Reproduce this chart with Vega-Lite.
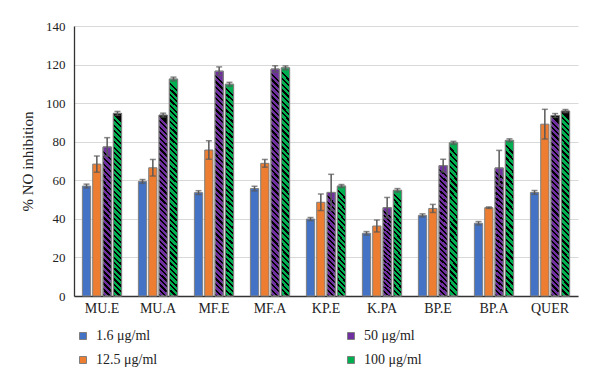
{
  "$schema": "https://vega.github.io/schema/vega-lite/v6.json",
  "width": 504,
  "height": 270,
  "autosize": {"type": "none"},
  "padding": {"left": 74, "top": 26, "right": 22, "bottom": 94},
  "background": "white",
  "config": {
    "font": "Liberation Serif",
    "view": {"stroke": null},
    "axis": {"labelFont": "Liberation Serif", "titleFont": "Liberation Serif", "labelColor": "#222", "titleColor": "#222"}
  },
  "data": {
    "values": [
      {"group": "MU.E", "conc": "1.6 μg/ml", "value": 57.0, "lo": 56.0, "hi": 58.0},
      {"group": "MU.E", "conc": "12.5 μg/ml", "value": 68.4, "lo": 64.2, "hi": 72.6},
      {"group": "MU.E", "conc": "50 μg/ml", "value": 77.3, "lo": 72.5, "hi": 82.1},
      {"group": "MU.E", "conc": "100 μg/ml", "value": 94.7, "lo": 93.7, "hi": 95.7},
      {"group": "MU.A", "conc": "1.6 μg/ml", "value": 59.4, "lo": 58.4, "hi": 60.4},
      {"group": "MU.A", "conc": "12.5 μg/ml", "value": 66.5, "lo": 62.2, "hi": 70.8},
      {"group": "MU.A", "conc": "50 μg/ml", "value": 93.8, "lo": 92.8, "hi": 94.8},
      {"group": "MU.A", "conc": "100 μg/ml", "value": 112.5, "lo": 111.5, "hi": 113.5},
      {"group": "MF.E", "conc": "1.6 μg/ml", "value": 53.6, "lo": 52.6, "hi": 54.6},
      {"group": "MF.E", "conc": "12.5 μg/ml", "value": 75.7, "lo": 70.9, "hi": 80.5},
      {"group": "MF.E", "conc": "50 μg/ml", "value": 116.6, "lo": 114.4, "hi": 118.8},
      {"group": "MF.E", "conc": "100 μg/ml", "value": 109.8, "lo": 108.8, "hi": 110.8},
      {"group": "MF.A", "conc": "1.6 μg/ml", "value": 55.7, "lo": 54.5, "hi": 56.9},
      {"group": "MF.A", "conc": "12.5 μg/ml", "value": 68.8, "lo": 66.8, "hi": 70.8},
      {"group": "MF.A", "conc": "50 μg/ml", "value": 117.7, "lo": 116.0, "hi": 119.4},
      {"group": "MF.A", "conc": "100 μg/ml", "value": 118.3, "lo": 117.3, "hi": 119.3},
      {"group": "KP.E", "conc": "1.6 μg/ml", "value": 39.9, "lo": 39.1, "hi": 40.7},
      {"group": "KP.E", "conc": "12.5 μg/ml", "value": 48.6, "lo": 44.3, "hi": 52.9},
      {"group": "KP.E", "conc": "50 μg/ml", "value": 53.7, "lo": 44.3, "hi": 63.1},
      {"group": "KP.E", "conc": "100 μg/ml", "value": 57.0, "lo": 56.2, "hi": 57.8},
      {"group": "K.PA", "conc": "1.6 μg/ml", "value": 32.5, "lo": 31.6, "hi": 33.4},
      {"group": "K.PA", "conc": "12.5 μg/ml", "value": 36.3, "lo": 33.2, "hi": 39.4},
      {"group": "K.PA", "conc": "50 μg/ml", "value": 45.8, "lo": 40.5, "hi": 51.1},
      {"group": "K.PA", "conc": "100 μg/ml", "value": 54.8, "lo": 53.9, "hi": 55.7},
      {"group": "BP.E", "conc": "1.6 μg/ml", "value": 41.8, "lo": 41.0, "hi": 42.6},
      {"group": "BP.E", "conc": "12.5 μg/ml", "value": 45.4, "lo": 43.3, "hi": 47.5},
      {"group": "BP.E", "conc": "50 μg/ml", "value": 67.6, "lo": 64.3, "hi": 70.9},
      {"group": "BP.E", "conc": "100 μg/ml", "value": 79.4, "lo": 78.6, "hi": 80.2},
      {"group": "BP.A", "conc": "1.6 μg/ml", "value": 37.7, "lo": 36.8, "hi": 38.6},
      {"group": "BP.A", "conc": "12.5 μg/ml", "value": 45.8, "lo": 45.4, "hi": 46.2},
      {"group": "BP.A", "conc": "50 μg/ml", "value": 66.4, "lo": 57.3, "hi": 75.5},
      {"group": "BP.A", "conc": "100 μg/ml", "value": 80.7, "lo": 79.9, "hi": 81.5},
      {"group": "QUER", "conc": "1.6 μg/ml", "value": 53.7, "lo": 52.7, "hi": 54.7},
      {"group": "QUER", "conc": "12.5 μg/ml", "value": 89.1, "lo": 81.4, "hi": 96.8},
      {"group": "QUER", "conc": "50 μg/ml", "value": 93.6, "lo": 92.6, "hi": 94.6},
      {"group": "QUER", "conc": "100 μg/ml", "value": 95.9, "lo": 95.1, "hi": 96.7}
    ]
  },
  "encoding": {
    "x": {
      "field": "group", "type": "nominal", "sort": null,
      "scale": {"paddingInner": 0.3, "paddingOuter": 0.15},
      "axis": {"title": null, "labelAngle": 0, "labelFontSize": 14, "labelPadding": 5, "ticks": false, "domainColor": "#333", "domainWidth": 1.3, "grid": false}
    },
    "xOffset": {
      "field": "conc", "type": "nominal",
      "scale": {"domain": ["1.6 μg/ml", "12.5 μg/ml", "50 μg/ml", "100 μg/ml"], "paddingInner": 0.2}
    },
    "y": {
      "field": "value", "type": "quantitative",
      "scale": {"domain": [0, 140], "nice": false},
      "axis": {"title": "% NO inhibition", "titleFontSize": 15, "titleFontWeight": "normal", "titlePadding": 10, "values": [0, 20, 40, 60, 80, 100, 120, 140], "labelFontSize": 13, "labelPadding": 9, "ticks": false, "domainColor": "#333", "domainWidth": 1.3, "gridColor": "#d9d9d9", "gridWidth": 1}
    }
  },
  "layer": [
    {
      "mark": {"type": "bar", "stroke": "#7f7f7f", "strokeWidth": 1},
      "encoding": {
        "color": {
          "field": "conc", "type": "nominal",
          "scale": {"domain": ["1.6 μg/ml", "12.5 μg/ml", "50 μg/ml", "100 μg/ml"], "range": ["#4472C4", "#ED7D31", "#7030A0", "#00B050"]},
          "legend": {
            "title": null, "orient": "none", "legendX": 2, "legendY": 303, "columns": 2, "columnPadding": 186, "rowPadding": 10, "padding": 0,
            "symbolType": "square", "symbolSize": 49, "symbolStrokeColor": "#7f7f7f", "symbolStrokeWidth": 1, "symbolOpacity": 1,
            "labelFont": "Liberation Serif", "labelFontSize": 14, "labelColor": "#222", "labelOffset": 6
          }
        }
      }
    },
    {
      "transform": [{"filter": {"field": "conc", "oneOf": ["50 μg/ml", "100 μg/ml"]}}, {"filter": "datum.value < 62"}],
      "mark": {"type": "bar", "stroke": "#7f7f7f", "strokeWidth": 1, "fill": {"gradient": "linear", "x1": 0, "y1": 1, "x2": 0.082, "y2": 0, "stops": [
        {"offset":0,"color":"#000"},{"offset":0.02,"color":"#000"},{"offset":0.02,"color":"rgba(0,0,0,0)"},{"offset":0.05,"color":"rgba(0,0,0,0)"},
        {"offset":0.05,"color":"#000"},{"offset":0.07,"color":"#000"},{"offset":0.07,"color":"rgba(0,0,0,0)"},{"offset":0.1,"color":"rgba(0,0,0,0)"},
        {"offset":0.1,"color":"#000"},{"offset":0.12,"color":"#000"},{"offset":0.12,"color":"rgba(0,0,0,0)"},{"offset":0.15,"color":"rgba(0,0,0,0)"},
        {"offset":0.15,"color":"#000"},{"offset":0.17,"color":"#000"},{"offset":0.17,"color":"rgba(0,0,0,0)"},{"offset":0.2,"color":"rgba(0,0,0,0)"},
        {"offset":0.2,"color":"#000"},{"offset":0.22,"color":"#000"},{"offset":0.22,"color":"rgba(0,0,0,0)"},{"offset":0.25,"color":"rgba(0,0,0,0)"},
        {"offset":0.25,"color":"#000"},{"offset":0.27,"color":"#000"},{"offset":0.27,"color":"rgba(0,0,0,0)"},{"offset":0.3,"color":"rgba(0,0,0,0)"},
        {"offset":0.3,"color":"#000"},{"offset":0.32,"color":"#000"},{"offset":0.32,"color":"rgba(0,0,0,0)"},{"offset":0.35,"color":"rgba(0,0,0,0)"},
        {"offset":0.35,"color":"#000"},{"offset":0.37,"color":"#000"},{"offset":0.37,"color":"rgba(0,0,0,0)"},{"offset":0.4,"color":"rgba(0,0,0,0)"},
        {"offset":0.4,"color":"#000"},{"offset":0.42,"color":"#000"},{"offset":0.42,"color":"rgba(0,0,0,0)"},{"offset":0.45,"color":"rgba(0,0,0,0)"},
        {"offset":0.45,"color":"#000"},{"offset":0.47,"color":"#000"},{"offset":0.47,"color":"rgba(0,0,0,0)"},{"offset":0.5,"color":"rgba(0,0,0,0)"},
        {"offset":0.5,"color":"#000"},{"offset":0.52,"color":"#000"},{"offset":0.52,"color":"rgba(0,0,0,0)"},{"offset":0.55,"color":"rgba(0,0,0,0)"},
        {"offset":0.55,"color":"#000"},{"offset":0.57,"color":"#000"},{"offset":0.57,"color":"rgba(0,0,0,0)"},{"offset":0.6,"color":"rgba(0,0,0,0)"},
        {"offset":0.6,"color":"#000"},{"offset":0.62,"color":"#000"},{"offset":0.62,"color":"rgba(0,0,0,0)"},{"offset":0.65,"color":"rgba(0,0,0,0)"},
        {"offset":0.65,"color":"#000"},{"offset":0.67,"color":"#000"},{"offset":0.67,"color":"rgba(0,0,0,0)"},{"offset":0.7,"color":"rgba(0,0,0,0)"},
        {"offset":0.7,"color":"#000"},{"offset":0.72,"color":"#000"},{"offset":0.72,"color":"rgba(0,0,0,0)"},{"offset":0.75,"color":"rgba(0,0,0,0)"},
        {"offset":0.75,"color":"#000"},{"offset":0.77,"color":"#000"},{"offset":0.77,"color":"rgba(0,0,0,0)"},{"offset":0.8,"color":"rgba(0,0,0,0)"},
        {"offset":0.8,"color":"#000"},{"offset":0.82,"color":"#000"},{"offset":0.82,"color":"rgba(0,0,0,0)"},{"offset":0.85,"color":"rgba(0,0,0,0)"},
        {"offset":0.85,"color":"#000"},{"offset":0.87,"color":"#000"},{"offset":0.87,"color":"rgba(0,0,0,0)"},{"offset":0.9,"color":"rgba(0,0,0,0)"},
        {"offset":0.9,"color":"#000"},{"offset":0.92,"color":"#000"},{"offset":0.92,"color":"rgba(0,0,0,0)"},{"offset":0.95,"color":"rgba(0,0,0,0)"},
        {"offset":0.95,"color":"#000"},{"offset":0.97,"color":"#000"},{"offset":0.97,"color":"rgba(0,0,0,0)"},{"offset":1,"color":"rgba(0,0,0,0)"}
      ]}}
    },
    {
      "transform": [{"filter": {"field": "conc", "oneOf": ["50 μg/ml", "100 μg/ml"]}}, {"filter": "datum.value >= 62 && datum.value < 88"}],
      "mark": {"type": "bar", "stroke": "#7f7f7f", "strokeWidth": 1, "fill": {"gradient": "linear", "x1": 0, "y1": 1, "x2": 0.057, "y2": 0, "stops": [
        {"offset":0,"color":"#000"},{"offset":0.016,"color":"#000"},{"offset":0.016,"color":"rgba(0,0,0,0)"},{"offset":0.04,"color":"rgba(0,0,0,0)"},
        {"offset":0.04,"color":"#000"},{"offset":0.056,"color":"#000"},{"offset":0.056,"color":"rgba(0,0,0,0)"},{"offset":0.08,"color":"rgba(0,0,0,0)"},
        {"offset":0.08,"color":"#000"},{"offset":0.096,"color":"#000"},{"offset":0.096,"color":"rgba(0,0,0,0)"},{"offset":0.12,"color":"rgba(0,0,0,0)"},
        {"offset":0.12,"color":"#000"},{"offset":0.136,"color":"#000"},{"offset":0.136,"color":"rgba(0,0,0,0)"},{"offset":0.16,"color":"rgba(0,0,0,0)"},
        {"offset":0.16,"color":"#000"},{"offset":0.176,"color":"#000"},{"offset":0.176,"color":"rgba(0,0,0,0)"},{"offset":0.2,"color":"rgba(0,0,0,0)"},
        {"offset":0.2,"color":"#000"},{"offset":0.216,"color":"#000"},{"offset":0.216,"color":"rgba(0,0,0,0)"},{"offset":0.24,"color":"rgba(0,0,0,0)"},
        {"offset":0.24,"color":"#000"},{"offset":0.256,"color":"#000"},{"offset":0.256,"color":"rgba(0,0,0,0)"},{"offset":0.28,"color":"rgba(0,0,0,0)"},
        {"offset":0.28,"color":"#000"},{"offset":0.296,"color":"#000"},{"offset":0.296,"color":"rgba(0,0,0,0)"},{"offset":0.32,"color":"rgba(0,0,0,0)"},
        {"offset":0.32,"color":"#000"},{"offset":0.336,"color":"#000"},{"offset":0.336,"color":"rgba(0,0,0,0)"},{"offset":0.36,"color":"rgba(0,0,0,0)"},
        {"offset":0.36,"color":"#000"},{"offset":0.376,"color":"#000"},{"offset":0.376,"color":"rgba(0,0,0,0)"},{"offset":0.4,"color":"rgba(0,0,0,0)"},
        {"offset":0.4,"color":"#000"},{"offset":0.416,"color":"#000"},{"offset":0.416,"color":"rgba(0,0,0,0)"},{"offset":0.44,"color":"rgba(0,0,0,0)"},
        {"offset":0.44,"color":"#000"},{"offset":0.456,"color":"#000"},{"offset":0.456,"color":"rgba(0,0,0,0)"},{"offset":0.48,"color":"rgba(0,0,0,0)"},
        {"offset":0.48,"color":"#000"},{"offset":0.496,"color":"#000"},{"offset":0.496,"color":"rgba(0,0,0,0)"},{"offset":0.52,"color":"rgba(0,0,0,0)"},
        {"offset":0.52,"color":"#000"},{"offset":0.536,"color":"#000"},{"offset":0.536,"color":"rgba(0,0,0,0)"},{"offset":0.56,"color":"rgba(0,0,0,0)"},
        {"offset":0.56,"color":"#000"},{"offset":0.576,"color":"#000"},{"offset":0.576,"color":"rgba(0,0,0,0)"},{"offset":0.6,"color":"rgba(0,0,0,0)"},
        {"offset":0.6,"color":"#000"},{"offset":0.616,"color":"#000"},{"offset":0.616,"color":"rgba(0,0,0,0)"},{"offset":0.64,"color":"rgba(0,0,0,0)"},
        {"offset":0.64,"color":"#000"},{"offset":0.656,"color":"#000"},{"offset":0.656,"color":"rgba(0,0,0,0)"},{"offset":0.68,"color":"rgba(0,0,0,0)"},
        {"offset":0.68,"color":"#000"},{"offset":0.696,"color":"#000"},{"offset":0.696,"color":"rgba(0,0,0,0)"},{"offset":0.72,"color":"rgba(0,0,0,0)"},
        {"offset":0.72,"color":"#000"},{"offset":0.736,"color":"#000"},{"offset":0.736,"color":"rgba(0,0,0,0)"},{"offset":0.76,"color":"rgba(0,0,0,0)"},
        {"offset":0.76,"color":"#000"},{"offset":0.776,"color":"#000"},{"offset":0.776,"color":"rgba(0,0,0,0)"},{"offset":0.8,"color":"rgba(0,0,0,0)"},
        {"offset":0.8,"color":"#000"},{"offset":0.816,"color":"#000"},{"offset":0.816,"color":"rgba(0,0,0,0)"},{"offset":0.84,"color":"rgba(0,0,0,0)"},
        {"offset":0.84,"color":"#000"},{"offset":0.856,"color":"#000"},{"offset":0.856,"color":"rgba(0,0,0,0)"},{"offset":0.88,"color":"rgba(0,0,0,0)"},
        {"offset":0.88,"color":"#000"},{"offset":0.896,"color":"#000"},{"offset":0.896,"color":"rgba(0,0,0,0)"},{"offset":0.92,"color":"rgba(0,0,0,0)"},
        {"offset":0.92,"color":"#000"},{"offset":0.936,"color":"#000"},{"offset":0.936,"color":"rgba(0,0,0,0)"},{"offset":0.96,"color":"rgba(0,0,0,0)"},
        {"offset":0.96,"color":"#000"},{"offset":0.976,"color":"#000"},{"offset":0.976,"color":"rgba(0,0,0,0)"},{"offset":1,"color":"rgba(0,0,0,0)"}
      ]}}
    },
    {
      "transform": [{"filter": {"field": "conc", "oneOf": ["50 μg/ml", "100 μg/ml"]}}, {"filter": "datum.value >= 88 && datum.value < 105"}],
      "mark": {"type": "bar", "stroke": "#7f7f7f", "strokeWidth": 1, "fill": {"gradient": "linear", "x1": 0, "y1": 1, "x2": 0.045, "y2": 0, "stops": [
        {"offset":0,"color":"#000"},{"offset":0.012,"color":"#000"},{"offset":0.012,"color":"rgba(0,0,0,0)"},{"offset":0.03,"color":"rgba(0,0,0,0)"},
        {"offset":0.03,"color":"#000"},{"offset":0.042,"color":"#000"},{"offset":0.042,"color":"rgba(0,0,0,0)"},{"offset":0.06,"color":"rgba(0,0,0,0)"},
        {"offset":0.06,"color":"#000"},{"offset":0.072,"color":"#000"},{"offset":0.072,"color":"rgba(0,0,0,0)"},{"offset":0.09,"color":"rgba(0,0,0,0)"},
        {"offset":0.09,"color":"#000"},{"offset":0.102,"color":"#000"},{"offset":0.102,"color":"rgba(0,0,0,0)"},{"offset":0.12,"color":"rgba(0,0,0,0)"},
        {"offset":0.12,"color":"#000"},{"offset":0.132,"color":"#000"},{"offset":0.132,"color":"rgba(0,0,0,0)"},{"offset":0.15,"color":"rgba(0,0,0,0)"},
        {"offset":0.15,"color":"#000"},{"offset":0.162,"color":"#000"},{"offset":0.162,"color":"rgba(0,0,0,0)"},{"offset":0.18,"color":"rgba(0,0,0,0)"},
        {"offset":0.18,"color":"#000"},{"offset":0.192,"color":"#000"},{"offset":0.192,"color":"rgba(0,0,0,0)"},{"offset":0.21,"color":"rgba(0,0,0,0)"},
        {"offset":0.21,"color":"#000"},{"offset":0.222,"color":"#000"},{"offset":0.222,"color":"rgba(0,0,0,0)"},{"offset":0.24,"color":"rgba(0,0,0,0)"},
        {"offset":0.24,"color":"#000"},{"offset":0.252,"color":"#000"},{"offset":0.252,"color":"rgba(0,0,0,0)"},{"offset":0.27,"color":"rgba(0,0,0,0)"},
        {"offset":0.27,"color":"#000"},{"offset":0.282,"color":"#000"},{"offset":0.282,"color":"rgba(0,0,0,0)"},{"offset":0.3,"color":"rgba(0,0,0,0)"},
        {"offset":0.3,"color":"#000"},{"offset":0.312,"color":"#000"},{"offset":0.312,"color":"rgba(0,0,0,0)"},{"offset":0.33,"color":"rgba(0,0,0,0)"},
        {"offset":0.33,"color":"#000"},{"offset":0.342,"color":"#000"},{"offset":0.342,"color":"rgba(0,0,0,0)"},{"offset":0.36,"color":"rgba(0,0,0,0)"},
        {"offset":0.36,"color":"#000"},{"offset":0.372,"color":"#000"},{"offset":0.372,"color":"rgba(0,0,0,0)"},{"offset":0.39,"color":"rgba(0,0,0,0)"},
        {"offset":0.39,"color":"#000"},{"offset":0.402,"color":"#000"},{"offset":0.402,"color":"rgba(0,0,0,0)"},{"offset":0.42,"color":"rgba(0,0,0,0)"},
        {"offset":0.42,"color":"#000"},{"offset":0.432,"color":"#000"},{"offset":0.432,"color":"rgba(0,0,0,0)"},{"offset":0.45,"color":"rgba(0,0,0,0)"},
        {"offset":0.45,"color":"#000"},{"offset":0.462,"color":"#000"},{"offset":0.462,"color":"rgba(0,0,0,0)"},{"offset":0.48,"color":"rgba(0,0,0,0)"},
        {"offset":0.48,"color":"#000"},{"offset":0.492,"color":"#000"},{"offset":0.492,"color":"rgba(0,0,0,0)"},{"offset":0.51,"color":"rgba(0,0,0,0)"},
        {"offset":0.51,"color":"#000"},{"offset":0.522,"color":"#000"},{"offset":0.522,"color":"rgba(0,0,0,0)"},{"offset":0.54,"color":"rgba(0,0,0,0)"},
        {"offset":0.54,"color":"#000"},{"offset":0.552,"color":"#000"},{"offset":0.552,"color":"rgba(0,0,0,0)"},{"offset":0.57,"color":"rgba(0,0,0,0)"},
        {"offset":0.57,"color":"#000"},{"offset":0.582,"color":"#000"},{"offset":0.582,"color":"rgba(0,0,0,0)"},{"offset":0.6,"color":"rgba(0,0,0,0)"},
        {"offset":0.6,"color":"#000"},{"offset":0.612,"color":"#000"},{"offset":0.612,"color":"rgba(0,0,0,0)"},{"offset":0.63,"color":"rgba(0,0,0,0)"},
        {"offset":0.63,"color":"#000"},{"offset":0.642,"color":"#000"},{"offset":0.642,"color":"rgba(0,0,0,0)"},{"offset":0.66,"color":"rgba(0,0,0,0)"},
        {"offset":0.66,"color":"#000"},{"offset":0.672,"color":"#000"},{"offset":0.672,"color":"rgba(0,0,0,0)"},{"offset":0.69,"color":"rgba(0,0,0,0)"},
        {"offset":0.69,"color":"#000"},{"offset":0.702,"color":"#000"},{"offset":0.702,"color":"rgba(0,0,0,0)"},{"offset":0.72,"color":"rgba(0,0,0,0)"},
        {"offset":0.72,"color":"#000"},{"offset":0.732,"color":"#000"},{"offset":0.732,"color":"rgba(0,0,0,0)"},{"offset":0.75,"color":"rgba(0,0,0,0)"},
        {"offset":0.75,"color":"#000"},{"offset":0.762,"color":"#000"},{"offset":0.762,"color":"rgba(0,0,0,0)"},{"offset":0.78,"color":"rgba(0,0,0,0)"},
        {"offset":0.78,"color":"#000"},{"offset":0.792,"color":"#000"},{"offset":0.792,"color":"rgba(0,0,0,0)"},{"offset":0.81,"color":"rgba(0,0,0,0)"},
        {"offset":0.81,"color":"#000"},{"offset":0.822,"color":"#000"},{"offset":0.822,"color":"rgba(0,0,0,0)"},{"offset":0.84,"color":"rgba(0,0,0,0)"},
        {"offset":0.84,"color":"#000"},{"offset":0.852,"color":"#000"},{"offset":0.852,"color":"rgba(0,0,0,0)"},{"offset":0.87,"color":"rgba(0,0,0,0)"},
        {"offset":0.87,"color":"#000"},{"offset":0.882,"color":"#000"},{"offset":0.882,"color":"rgba(0,0,0,0)"},{"offset":0.9,"color":"rgba(0,0,0,0)"},
        {"offset":0.9,"color":"#000"},{"offset":0.912,"color":"#000"},{"offset":0.912,"color":"rgba(0,0,0,0)"},{"offset":0.93,"color":"rgba(0,0,0,0)"},
        {"offset":0.93,"color":"#000"},{"offset":0.942,"color":"#000"},{"offset":0.942,"color":"rgba(0,0,0,0)"},{"offset":0.96,"color":"rgba(0,0,0,0)"},
        {"offset":0.96,"color":"#000"},{"offset":0.972,"color":"#000"},{"offset":0.972,"color":"rgba(0,0,0,0)"},{"offset":0.99,"color":"rgba(0,0,0,0)"},
        {"offset":0.99,"color":"#000"},{"offset":1,"color":"#000"}
      ]}}
    },
    {
      "transform": [{"filter": {"field": "conc", "oneOf": ["50 μg/ml", "100 μg/ml"]}}, {"filter": "datum.value >= 105"}],
      "mark": {"type": "bar", "stroke": "#7f7f7f", "strokeWidth": 1, "fill": {"gradient": "linear", "x1": 0, "y1": 1, "x2": 0.037, "y2": 0, "stops": [
        {"offset":0,"color":"#000"},{"offset":0.01,"color":"#000"},{"offset":0.01,"color":"rgba(0,0,0,0)"},{"offset":0.025,"color":"rgba(0,0,0,0)"},
        {"offset":0.025,"color":"#000"},{"offset":0.035,"color":"#000"},{"offset":0.035,"color":"rgba(0,0,0,0)"},{"offset":0.05,"color":"rgba(0,0,0,0)"},
        {"offset":0.05,"color":"#000"},{"offset":0.06,"color":"#000"},{"offset":0.06,"color":"rgba(0,0,0,0)"},{"offset":0.075,"color":"rgba(0,0,0,0)"},
        {"offset":0.075,"color":"#000"},{"offset":0.085,"color":"#000"},{"offset":0.085,"color":"rgba(0,0,0,0)"},{"offset":0.1,"color":"rgba(0,0,0,0)"},
        {"offset":0.1,"color":"#000"},{"offset":0.11,"color":"#000"},{"offset":0.11,"color":"rgba(0,0,0,0)"},{"offset":0.125,"color":"rgba(0,0,0,0)"},
        {"offset":0.125,"color":"#000"},{"offset":0.135,"color":"#000"},{"offset":0.135,"color":"rgba(0,0,0,0)"},{"offset":0.15,"color":"rgba(0,0,0,0)"},
        {"offset":0.15,"color":"#000"},{"offset":0.16,"color":"#000"},{"offset":0.16,"color":"rgba(0,0,0,0)"},{"offset":0.175,"color":"rgba(0,0,0,0)"},
        {"offset":0.175,"color":"#000"},{"offset":0.185,"color":"#000"},{"offset":0.185,"color":"rgba(0,0,0,0)"},{"offset":0.2,"color":"rgba(0,0,0,0)"},
        {"offset":0.2,"color":"#000"},{"offset":0.21,"color":"#000"},{"offset":0.21,"color":"rgba(0,0,0,0)"},{"offset":0.225,"color":"rgba(0,0,0,0)"},
        {"offset":0.225,"color":"#000"},{"offset":0.235,"color":"#000"},{"offset":0.235,"color":"rgba(0,0,0,0)"},{"offset":0.25,"color":"rgba(0,0,0,0)"},
        {"offset":0.25,"color":"#000"},{"offset":0.26,"color":"#000"},{"offset":0.26,"color":"rgba(0,0,0,0)"},{"offset":0.275,"color":"rgba(0,0,0,0)"},
        {"offset":0.275,"color":"#000"},{"offset":0.285,"color":"#000"},{"offset":0.285,"color":"rgba(0,0,0,0)"},{"offset":0.3,"color":"rgba(0,0,0,0)"},
        {"offset":0.3,"color":"#000"},{"offset":0.31,"color":"#000"},{"offset":0.31,"color":"rgba(0,0,0,0)"},{"offset":0.325,"color":"rgba(0,0,0,0)"},
        {"offset":0.325,"color":"#000"},{"offset":0.335,"color":"#000"},{"offset":0.335,"color":"rgba(0,0,0,0)"},{"offset":0.35,"color":"rgba(0,0,0,0)"},
        {"offset":0.35,"color":"#000"},{"offset":0.36,"color":"#000"},{"offset":0.36,"color":"rgba(0,0,0,0)"},{"offset":0.375,"color":"rgba(0,0,0,0)"},
        {"offset":0.375,"color":"#000"},{"offset":0.385,"color":"#000"},{"offset":0.385,"color":"rgba(0,0,0,0)"},{"offset":0.4,"color":"rgba(0,0,0,0)"},
        {"offset":0.4,"color":"#000"},{"offset":0.41,"color":"#000"},{"offset":0.41,"color":"rgba(0,0,0,0)"},{"offset":0.425,"color":"rgba(0,0,0,0)"},
        {"offset":0.425,"color":"#000"},{"offset":0.435,"color":"#000"},{"offset":0.435,"color":"rgba(0,0,0,0)"},{"offset":0.45,"color":"rgba(0,0,0,0)"},
        {"offset":0.45,"color":"#000"},{"offset":0.46,"color":"#000"},{"offset":0.46,"color":"rgba(0,0,0,0)"},{"offset":0.475,"color":"rgba(0,0,0,0)"},
        {"offset":0.475,"color":"#000"},{"offset":0.485,"color":"#000"},{"offset":0.485,"color":"rgba(0,0,0,0)"},{"offset":0.5,"color":"rgba(0,0,0,0)"},
        {"offset":0.5,"color":"#000"},{"offset":0.51,"color":"#000"},{"offset":0.51,"color":"rgba(0,0,0,0)"},{"offset":0.525,"color":"rgba(0,0,0,0)"},
        {"offset":0.525,"color":"#000"},{"offset":0.535,"color":"#000"},{"offset":0.535,"color":"rgba(0,0,0,0)"},{"offset":0.55,"color":"rgba(0,0,0,0)"},
        {"offset":0.55,"color":"#000"},{"offset":0.56,"color":"#000"},{"offset":0.56,"color":"rgba(0,0,0,0)"},{"offset":0.575,"color":"rgba(0,0,0,0)"},
        {"offset":0.575,"color":"#000"},{"offset":0.585,"color":"#000"},{"offset":0.585,"color":"rgba(0,0,0,0)"},{"offset":0.6,"color":"rgba(0,0,0,0)"},
        {"offset":0.6,"color":"#000"},{"offset":0.61,"color":"#000"},{"offset":0.61,"color":"rgba(0,0,0,0)"},{"offset":0.625,"color":"rgba(0,0,0,0)"},
        {"offset":0.625,"color":"#000"},{"offset":0.635,"color":"#000"},{"offset":0.635,"color":"rgba(0,0,0,0)"},{"offset":0.65,"color":"rgba(0,0,0,0)"},
        {"offset":0.65,"color":"#000"},{"offset":0.66,"color":"#000"},{"offset":0.66,"color":"rgba(0,0,0,0)"},{"offset":0.675,"color":"rgba(0,0,0,0)"},
        {"offset":0.675,"color":"#000"},{"offset":0.685,"color":"#000"},{"offset":0.685,"color":"rgba(0,0,0,0)"},{"offset":0.7,"color":"rgba(0,0,0,0)"},
        {"offset":0.7,"color":"#000"},{"offset":0.71,"color":"#000"},{"offset":0.71,"color":"rgba(0,0,0,0)"},{"offset":0.725,"color":"rgba(0,0,0,0)"},
        {"offset":0.725,"color":"#000"},{"offset":0.735,"color":"#000"},{"offset":0.735,"color":"rgba(0,0,0,0)"},{"offset":0.75,"color":"rgba(0,0,0,0)"},
        {"offset":0.75,"color":"#000"},{"offset":0.76,"color":"#000"},{"offset":0.76,"color":"rgba(0,0,0,0)"},{"offset":0.775,"color":"rgba(0,0,0,0)"},
        {"offset":0.775,"color":"#000"},{"offset":0.785,"color":"#000"},{"offset":0.785,"color":"rgba(0,0,0,0)"},{"offset":0.8,"color":"rgba(0,0,0,0)"},
        {"offset":0.8,"color":"#000"},{"offset":0.81,"color":"#000"},{"offset":0.81,"color":"rgba(0,0,0,0)"},{"offset":0.825,"color":"rgba(0,0,0,0)"},
        {"offset":0.825,"color":"#000"},{"offset":0.835,"color":"#000"},{"offset":0.835,"color":"rgba(0,0,0,0)"},{"offset":0.85,"color":"rgba(0,0,0,0)"},
        {"offset":0.85,"color":"#000"},{"offset":0.86,"color":"#000"},{"offset":0.86,"color":"rgba(0,0,0,0)"},{"offset":0.875,"color":"rgba(0,0,0,0)"},
        {"offset":0.875,"color":"#000"},{"offset":0.885,"color":"#000"},{"offset":0.885,"color":"rgba(0,0,0,0)"},{"offset":0.9,"color":"rgba(0,0,0,0)"},
        {"offset":0.9,"color":"#000"},{"offset":0.91,"color":"#000"},{"offset":0.91,"color":"rgba(0,0,0,0)"},{"offset":0.925,"color":"rgba(0,0,0,0)"},
        {"offset":0.925,"color":"#000"},{"offset":0.935,"color":"#000"},{"offset":0.935,"color":"rgba(0,0,0,0)"},{"offset":0.95,"color":"rgba(0,0,0,0)"},
        {"offset":0.95,"color":"#000"},{"offset":0.96,"color":"#000"},{"offset":0.96,"color":"rgba(0,0,0,0)"},{"offset":0.975,"color":"rgba(0,0,0,0)"},
        {"offset":0.975,"color":"#000"},{"offset":0.985,"color":"#000"},{"offset":0.985,"color":"rgba(0,0,0,0)"},{"offset":1,"color":"rgba(0,0,0,0)"}
      ]}}
    },
    {
      "mark": {"type": "rule", "color": "#595959", "strokeWidth": 1.5},
      "encoding": {"y": {"field": "lo", "type": "quantitative"}, "y2": {"field": "hi"}}
    },
    {
      "mark": {"type": "tick", "color": "#595959", "thickness": 1.5, "size": 6},
      "encoding": {"y": {"field": "hi", "type": "quantitative"}}
    },
    {
      "mark": {"type": "tick", "color": "#595959", "thickness": 1.5, "size": 6},
      "encoding": {"y": {"field": "lo", "type": "quantitative"}}
    }
  ]
}
